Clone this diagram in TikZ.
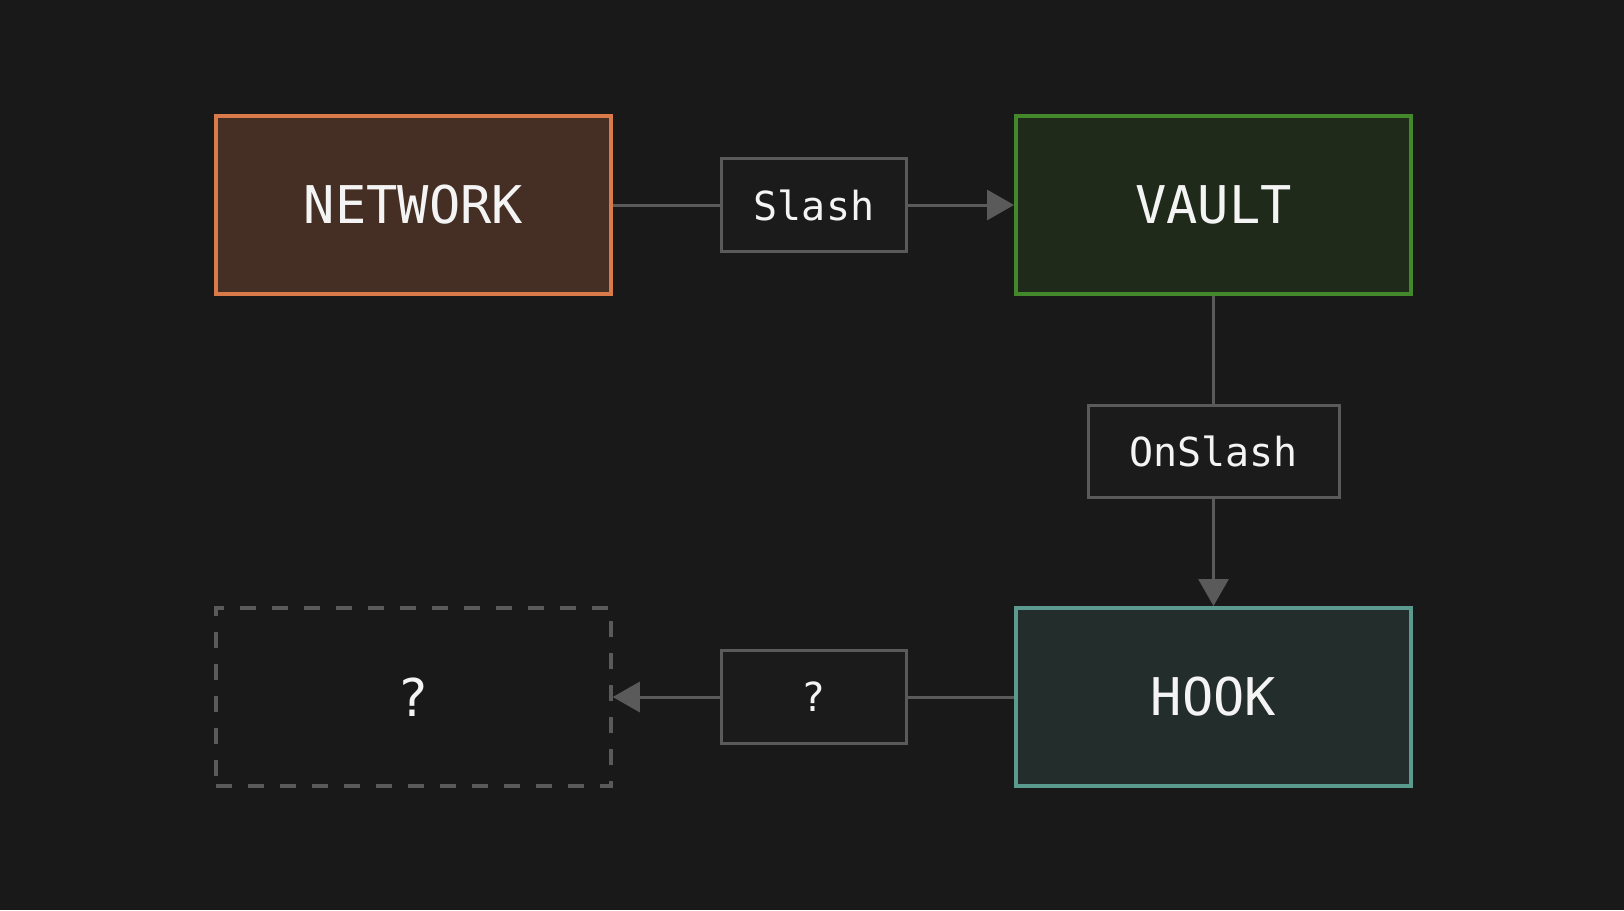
\documentclass[tikz,border=0pt]{standalone}
\usepackage{fontspec}
\newfontfamily\monofnt{DejaVu Sans Mono}
\usetikzlibrary{arrows.meta}
\definecolor{bgc}{HTML}{191919}
\definecolor{linec}{HTML}{5A5A5A}
\definecolor{txtc}{HTML}{F4F4F4}
\definecolor{netfill}{HTML}{452F25}
\definecolor{netdraw}{HTML}{D97A4A}
\definecolor{vaultfill}{HTML}{1F2A1A}
\definecolor{vaultdraw}{HTML}{43892B}
\definecolor{hookfill}{HTML}{232E2C}
\definecolor{hookdraw}{HTML}{5A9A8F}
\definecolor{lblfill}{HTML}{1B1B1B}
\tikzset{
  bigbox/.style={rectangle, line width=4pt, minimum width=395pt, minimum height=178pt, inner sep=0pt, text=txtc, font=\monofnt\fontsize{52}{60}\selectfont},
  lblbox/.style={rectangle, draw=linec, fill=lblfill, line width=3pt, minimum width=185pt, minimum height=93pt, inner sep=0pt, text=txtc, font=\monofnt\fontsize{40}{48}\selectfont},
  conn/.style={draw=linec, line width=3pt},
  arr/.style={conn, -{Triangle[length=27pt,width=30pt]}},
}
\begin{document}
\begin{tikzpicture}[x=1pt,y=1pt]
\fill[bgc] (0,0) rectangle (1624,-910);
\useasboundingbox (0,0) rectangle (1624,-910);
\node[bigbox, draw=netdraw, fill=netfill] (net) at (413.5,-205) {NETWORK};
\node[bigbox, draw=vaultdraw, fill=vaultfill] (vault) at (1213.5,-205) {VAULT};
\node[bigbox, draw=hookdraw, fill=hookfill] (hook) at (1213.5,-697) {HOOK};
\node[bigbox, draw=linec, line width=3.5pt, dash pattern=on 16pt off 16pt] (unk) at (413.5,-697) {?};
\node[lblbox] (slash) at (814,-205) {Slash};
\node[lblbox, minimum width=251pt, minimum height=92pt] (onslash) at (1213.5,-451.5) {OnSlash};
\node[lblbox] (q) at (814,-697) {?};
\draw[conn] (net.east) -- (slash.west);
\draw[arr] (slash.east) -- (vault.west);
\draw[conn] (vault.south) -- (onslash.north);
\draw[arr] (onslash.south) -- (hook.north);
\draw[conn] (hook.west) -- (q.east);
\draw[arr] (q.west) -- (unk.east);
\end{tikzpicture}
\end{document}
